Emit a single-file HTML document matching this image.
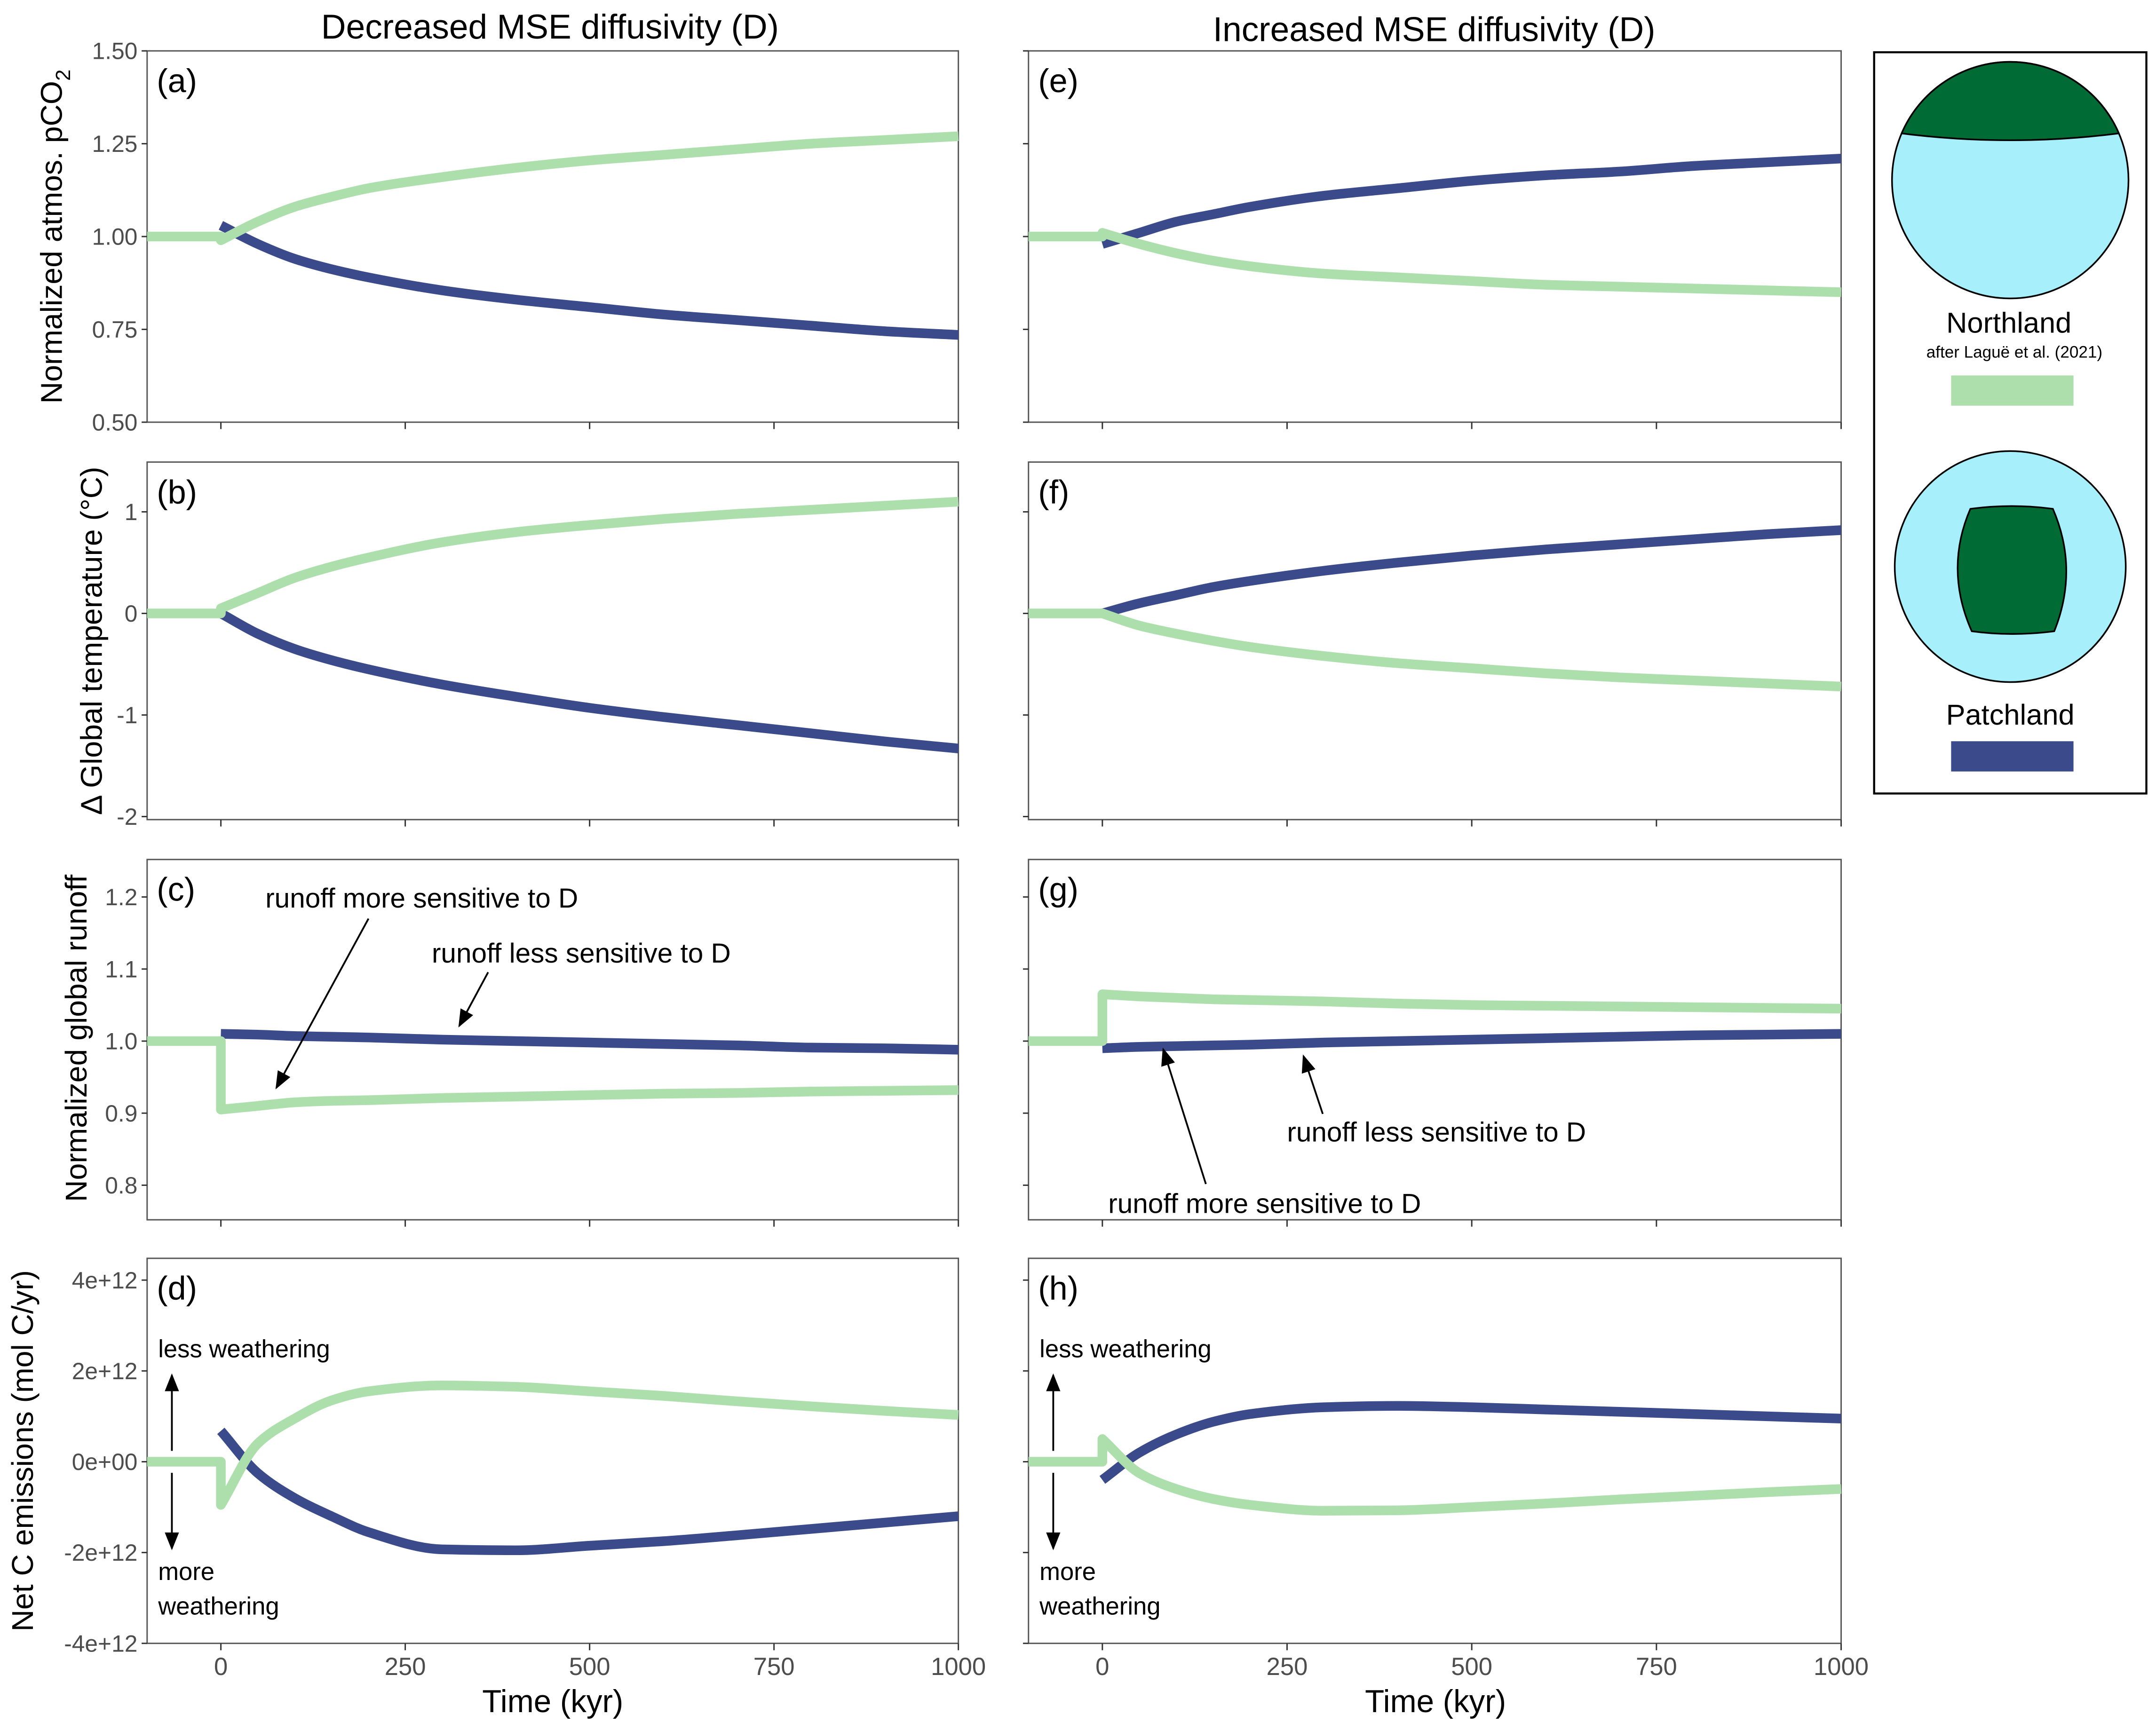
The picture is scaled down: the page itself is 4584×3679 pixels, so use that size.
<!DOCTYPE html>
<html><head><meta charset="utf-8"><style>
html,body{margin:0;padding:0;background:#fff}
svg{display:block}
text{font-family:"Liberation Sans",sans-serif}
</style></head><body>
<svg id="fig" xmlns="http://www.w3.org/2000/svg" width="4584" height="3679" viewBox="0 0 1568 1258" preserveAspectRatio="none">
<text x="400" y="28" font-size="25" text-anchor="middle" fill="#000">Decreased MSE diffusivity (D)</text>
<text x="1043" y="30" font-size="25" text-anchor="middle" fill="#000">Increased MSE diffusivity (D)</text>
<g id="plots"></g>
<g>
<rect x="1363" y="38" width="198" height="539" fill="#fff" stroke="#000" stroke-width="1.5"/>
<circle cx="1462" cy="131" r="86" fill="#a6effb" stroke="#000" stroke-width="1.2"/>
<path d="M1383,97 A86,86 0 0 1 1541,97 Q1462,107 1383,97 Z" fill="#006b34" stroke="#000" stroke-width="1.2"/>
<text x="1461" y="242" font-size="21" text-anchor="middle">Northland</text>
<text x="1465" y="260" font-size="12" text-anchor="middle">after Laguë et al. (2021)</text>
<rect x="1419" y="273" width="89" height="22" fill="#addfad"/>
<circle cx="1462" cy="412" r="84" fill="#a6effb" stroke="#000" stroke-width="1.2"/>
<path d="M1433,370 Q1463,366 1493,370 Q1512,414 1494,459 Q1463,463 1434,459 Q1414,414 1433,370 Z" fill="#006b34" stroke="#000" stroke-width="1.2"/>
<text x="1462" y="527" font-size="21" text-anchor="middle">Patchland</text>
<rect x="1419" y="539" width="89" height="22" fill="#3b4a8a"/>
</g>
</svg>
<script>
const GREEN="#addfad", BLUE="#3b4a8a";
const tA=[0,50,100,150,200,300,400,500,600,700,800,900,1000];
const aGreen=[0.99,1.04,1.08,1.107,1.13,1.16,1.185,1.205,1.22,1.235,1.25,1.26,1.27];
const aBlue=[1.03,0.98,0.94,0.912,0.89,0.855,0.83,0.81,0.79,0.775,0.76,0.745,0.735];
const eGreen=[1.01,0.98,0.955,0.935,0.92,0.90,0.89,0.88,0.87,0.865,0.86,0.855,0.85];
const eBlue=[0.98,1.01,1.04,1.06,1.08,1.11,1.13,1.15,1.165,1.175,1.19,1.2,1.21];
const bGreen=[0.05,0.2,0.35,0.46,0.55,0.7,0.8,0.87,0.93,0.98,1.02,1.06,1.1];
const bBlue=[0,-0.2,-0.35,-0.46,-0.55,-0.7,-0.82,-0.93,-1.02,-1.1,-1.18,-1.26,-1.33];
const fGreen=[0,-0.12,-0.2,-0.27,-0.33,-0.42,-0.49,-0.54,-0.59,-0.63,-0.66,-0.69,-0.72];
const fBlue=[0,0.1,0.18,0.26,0.32,0.42,0.5,0.57,0.63,0.68,0.73,0.78,0.82];
const cGreen=[0.905,0.91,0.915,0.917,0.918,0.921,0.923,0.925,0.927,0.928,0.93,0.931,0.932];
const cBlue=[1.01,1.009,1.007,1.006,1.005,1.002,1.0,0.998,0.996,0.994,0.991,0.99,0.988];
const gGreen=[1.065,1.062,1.06,1.058,1.057,1.055,1.052,1.05,1.049,1.048,1.047,1.046,1.045];
const gBlue=[0.99,0.992,0.993,0.994,0.995,0.998,1.0,1.002,1.004,1.006,1.008,1.009,1.01];
const dGreen=[-0.95,0.4,0.95,1.35,1.55,1.68,1.65,1.55,1.45,1.33,1.22,1.12,1.03];
const dBlue=[0.68,-0.25,-0.8,-1.2,-1.55,-1.93,-1.95,-1.85,-1.75,-1.62,-1.48,-1.34,-1.2];
const hGreen=[0.5,-0.25,-0.6,-0.82,-0.95,-1.08,-1.07,-1.0,-0.92,-0.83,-0.75,-0.67,-0.6];
const hBlue=[-0.4,0.2,0.6,0.88,1.05,1.2,1.23,1.2,1.15,1.1,1.05,1.0,0.95];
const xTicks=[0,250,500,750,1000];
const aTicks=[0.5,0.75,1.0,1.25,1.5], aLabels=["0.50","0.75","1.00","1.25","1.50"];
const bTicks=[-2,-1,0,1], bLabels=["-2","-1","0","1"];
const cTicks=[0.8,0.9,1.0,1.1,1.2], cLabels=["0.8","0.9","1.0","1.1","1.2"];
const dTicks=[-4,-2,0,2,4], dLabels=["-4e+12","-2e+12","0e+00","2e+12","4e+12"];

const NS="http://www.w3.org/2000/svg";
const root=document.getElementById('plots');
function mk(tag,attrs,parent){const e=document.createElementNS(NS,tag);for(const k in attrs)e.setAttribute(k,attrs[k]);(parent||root).appendChild(e);return e;}
function spline(pts){
 const n=pts.length, dx=[], m=[], s=[];
 for(let i=0;i<n-1;i++){dx[i]=pts[i+1][0]-pts[i][0];s[i]=(pts[i+1][1]-pts[i][1])/dx[i];}
 m[0]=s[0];m[n-1]=s[n-2];
 for(let i=1;i<n-1;i++){
  if(s[i-1]*s[i]<=0)m[i]=0;
  else{const w1=2*dx[i]+dx[i-1],w2=dx[i]+2*dx[i-1];m[i]=(w1+w2)/(w1/s[i-1]+w2/s[i]);}
 }
 let d="";
 for(let i=0;i<n-1;i++){
  const h=dx[i]/3;
  d+=" C"+(pts[i][0]+h)+","+(pts[i][1]+m[i]*h)+" "+(pts[i+1][0]-h)+","+(pts[i+1][1]-m[i+1]*h)+" "+pts[i+1][0]+","+pts[i+1][1];
 }
 return d;
}

const cols=[{x0:107,x1:697},{x0:748,x1:1339}];
const rows=[{y0:37,y1:307,ymin:0.5,ymax:1.5,base:1},{y0:336,y1:596,ymin:-2.03,ymax:1.49,base:0},{y0:625,y1:887,ymin:0.752,ymax:1.252,base:1},{y0:915,y1:1195,ymin:-4,ymax:4.48,base:0}];
const panels=[
 {c:0,r:0,lab:"(a)",g:aGreen,b:aBlue,ticks:aTicks,labels:aLabels,name:"panel-a"},
 {c:0,r:1,lab:"(b)",g:bGreen,b:bBlue,ticks:bTicks,labels:bLabels,name:"panel-b"},
 {c:0,r:2,lab:"(c)",g:cGreen,b:cBlue,ticks:cTicks,labels:cLabels,name:"panel-c"},
 {c:0,r:3,lab:"(d)",g:dGreen,b:dBlue,ticks:dTicks,labels:dLabels,name:"panel-d"},
 {c:1,r:0,lab:"(e)",g:eGreen,b:eBlue,ticks:aTicks,name:"panel-e"},
 {c:1,r:1,lab:"(f)",g:fGreen,b:fBlue,ticks:bTicks,name:"panel-f"},
 {c:1,r:2,lab:"(g)",g:gGreen,b:gBlue,ticks:cTicks,name:"panel-g"},
 {c:1,r:3,lab:"(h)",g:hGreen,b:hBlue,ticks:dTicks,name:"panel-h"}];

panels.forEach(p=>{
 const C=cols[p.c],R=rows[p.r];
 const sx=t=>C.x0+(t+100)/1100*(C.x1-C.x0);
 const sy=v=>R.y1-(v-R.ymin)/(R.ymax-R.ymin)*(R.y1-R.y0);
 const g=mk('g',{});
 
 
 const fr=mk('rect',{x:C.x0,y:R.y0,width:C.x1-C.x0,height:R.y1-R.y0,fill:'#fff',stroke:'#555','stroke-width':1},g);
 
 
 p.ticks.forEach((v,i)=>{
  const y=sy(v);
  const tk=mk('line',{x1:C.x0-4,x2:C.x0,y1:y,y2:y,stroke:'#333','stroke-width':1},g);
  
  
  if(p.labels){const t=mk('text',{x:C.x0-7,y:y+6,'font-size':17,'text-anchor':'end',fill:'#4d4d4d'},g);t.textContent=p.labels[i];
   
   }
 });
 xTicks.forEach(v=>{
  const x=sx(v);
  const tk=mk('line',{x1:x,x2:x,y1:R.y1,y2:R.y1+5,stroke:'#333','stroke-width':1},g);
  
  
  if(p.r===3){const t=mk('text',{x:x,y:R.y1+23,'font-size':18,'text-anchor':'middle',fill:'#4d4d4d'},g);t.textContent=String(v);
   
   }
 });
 const lt=mk('text',{x:C.x0+7,y:R.y0+30,'font-size':24,fill:'#000'},g);lt.textContent=p.lab;
 
 
 const bp=tA.map((t,i)=>[sx(t),sy(p.b[i])]);
 const bl=mk('path',{d:"M"+bp[0][0]+","+bp[0][1]+spline(bp),fill:'none',stroke:BLUE,'stroke-width':7,'stroke-linejoin':'round'},g);
 
 
 const gp=tA.map((t,i)=>[sx(t),sy(p.g[i])]);
 const d="M"+sx(-100)+","+sy(R.base)+" L"+sx(0)+","+sy(R.base)+" L"+gp[0][0]+","+gp[0][1]+spline(gp);
 const gl=mk('path',{d:d,fill:'none',stroke:GREEN,'stroke-width':7,'stroke-linejoin':'round'},g);
 
 
});

function txt(x,y,s,size,attrs,name){const t=mk('text',Object.assign({x:x,y:y,'font-size':size,fill:'#000'},attrs||{}));t.textContent=s;return t;}
const ya=mk('text',{x:0,y:0,'font-size':22,'text-anchor':'middle',transform:'translate(45,172) rotate(-90)'});
ya.innerHTML='Normalized atmos. pCO<tspan font-size="15" dy="6">2</tspan>';

txt(0,0,"Δ Global temperature (°C)",22,{'text-anchor':'middle',transform:'translate(74,466) rotate(-90)'},'y-axis-title-b');
txt(0,0,"Normalized global runoff",22,{'text-anchor':'middle',transform:'translate(63,755) rotate(-90)'},'y-axis-title-c');
txt(0,0,"Net C emissions (mol C/yr)",22,{'text-anchor':'middle',transform:'translate(24,1055) rotate(-90)'},'y-axis-title-d');
txt(402,1245,"Time (kyr)",23,{'text-anchor':'middle'},'x-axis-title-left');
txt(1044,1245,"Time (kyr)",23,{'text-anchor':'middle'},'x-axis-title-right');

mk('defs',{}).innerHTML='<marker id="ah" markerWidth="10" markerHeight="8" refX="9" refY="4" orient="auto"><path d="M0,0 L10,4 L0,8 Z" fill="#000"/></marker>';
function arr(x1,y1,x2,y2,name){const l=mk('line',{x1:x1,y1:y1,x2:x2,y2:y2,stroke:'#000','stroke-width':1.3,'marker-end':'url(#ah)'});}
txt(193,660,"runoff more sensitive to D",20,{},'annotation-more-sensitive-c');
txt(314,700,"runoff less sensitive to D",20,{},'annotation-less-sensitive-c');
arr(268,668,201,791,'arrow-more-sensitive-c');
arr(355,707,334,746,'arrow-less-sensitive-c');
txt(936,830,"runoff less sensitive to D",20,{},'annotation-less-sensitive-g');
txt(806,882,"runoff more sensitive to D",20,{},'annotation-more-sensitive-g');
arr(962,810,948,768,'arrow-less-sensitive-g');
arr(877,861,846,763,'arrow-more-sensitive-g');
[[107,115],[748,756]].forEach((c,i)=>{
 const ax=c[0]+18;
 txt(c[1],987,"less weathering",18,{},'annotation-less-weathering-'+i);
 txt(c[1],1149,"more",18,{},'annotation-more-'+i);
 txt(c[1],1174,"weathering",18,{},'annotation-weathering-'+i);
 arr(ax,1055,ax,1000,'arrow-up-'+i);
 arr(ax,1071,ax,1126,'arrow-down-'+i);
});
</script>
</body></html>
